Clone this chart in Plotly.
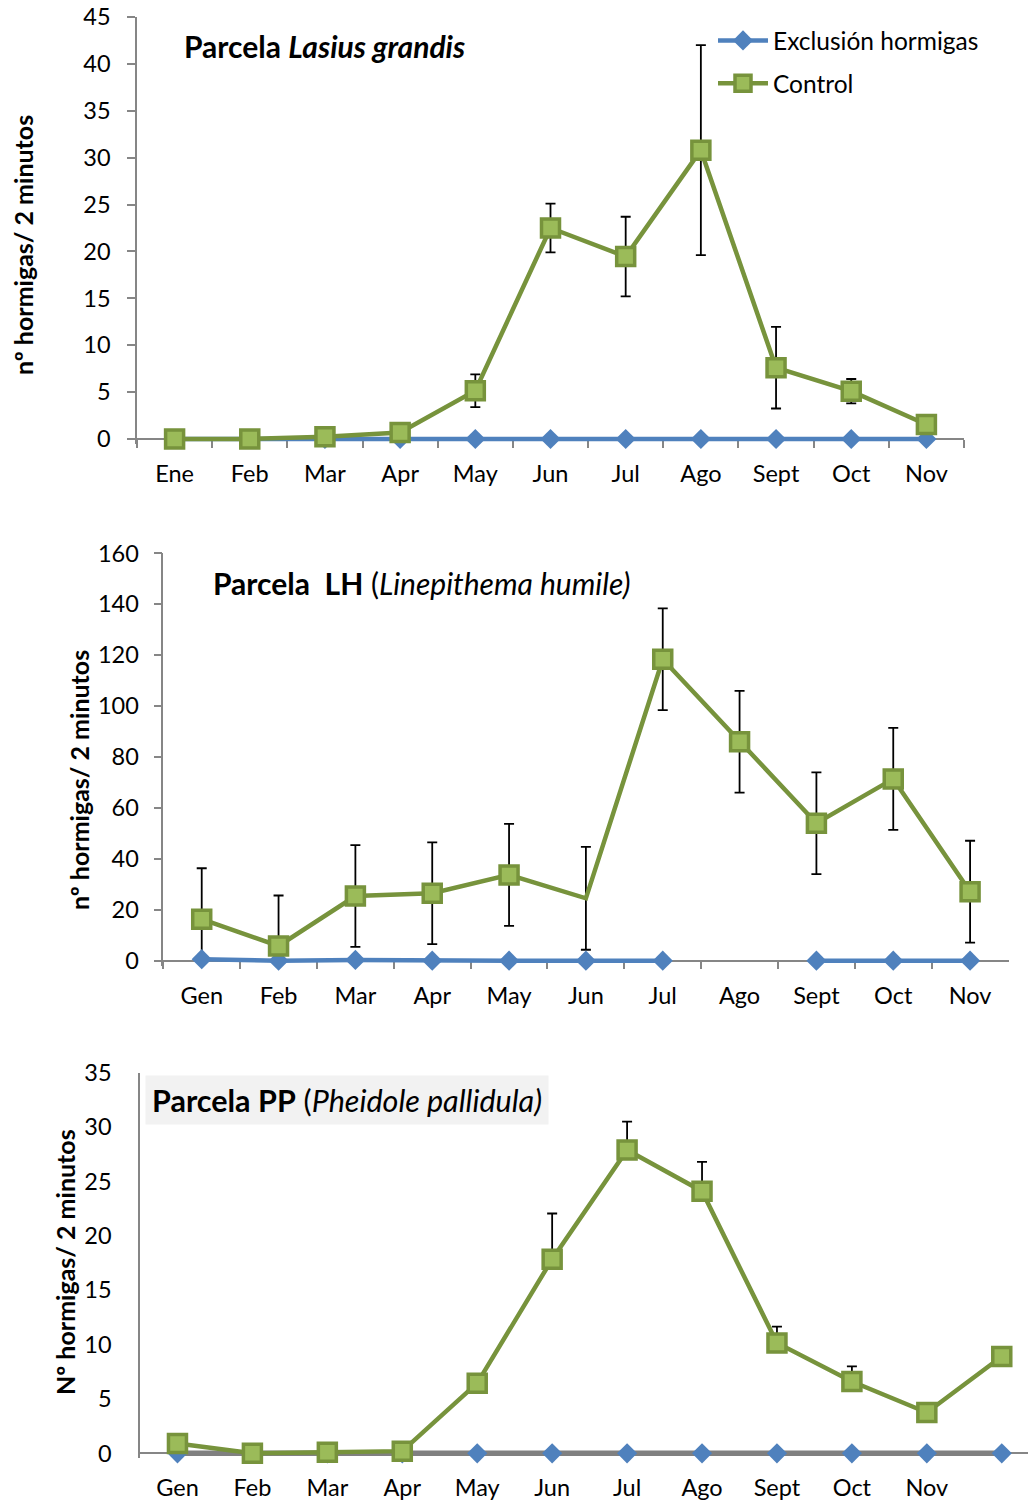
import plotly.graph_objects as go

# ---------------- data ----------------
months1 = ["Ene", "Feb", "Mar", "Apr", "May", "Jun", "Jul", "Ago", "Sept", "Oct", "Nov"]
excl1 = [0, 0, 0, 0, 0, 0, 0, 0, 0, 0, 0]
ctrl1 = [0, 0, 0.25, 0.7, 5.15, 22.5, 19.45, 30.8, 7.6, 5.1, 1.55]
err1 = [0, 0, 0, 0, 1.75, 2.6, 4.25, 11.2, 4.35, 1.3, 0]

months2 = ["Gen", "Feb", "Mar", "Apr", "May", "Jun", "Jul", "Ago", "Sept", "Oct", "Nov"]
excl2 = [0.6, 0, 0.3, 0, 0, 0, 0, None, 0, 0, 0]
ctrl2 = [16.3, 5.8, 25.4, 26.5, 33.7, 24.5, 118.4, 86.0, 54.0, 71.4, 27.1]
err2 = [20, 19.8, 20, 20, 20, 20.2, 20, 20, 20, 20, 20]
ctrl2_marker_shown = [1, 1, 1, 1, 1, 0, 1, 1, 1, 1, 1]

months3 = ["Gen", "Feb", "Mar", "Apr", "May", "Jun", "Jul", "Ago", "Sept", "Oct", "Nov", " "]
excl3 = [0, 0, 0, 0, 0, 0, 0, 0, 0, 0, 0, 0]
ctrl3 = [0.9, 0, 0.1, 0.2, 6.45, 17.85, 27.9, 24.1, 10.15, 6.6, 3.75, 8.9]
err3_plus = [0, 0, 0, 0, 0, 4.2, 2.6, 2.7, 1.5, 1.4, 0, 0]

# ---------------- style ----------------
W, H = 1028, 1501
FONT = "Lato"
BLUE = "#4F81BD"
GREEN = "#77933C"
GFILL = "#9BBB59"
AXC = "#868686"
TICK = 23.5
PAD = 5  # px of plot area kept below the zero line so lines at 0 are not clipped


def fx(px):
    return px / W


def fy(py):
    return 1 - py / H


fig = go.Figure()


def add_panel(xa, ya, cats, excl, ctrl, err, err_sym, excl_line_color, excl_w, legend,
              ctrl_sizes=None):
    fig.add_trace(go.Scatter(
        x=cats, y=ctrl, xaxis=xa, yaxis=ya, mode="markers",
        marker=dict(size=1, color="rgba(0,0,0,0)"),
        error_y=dict(type="data", array=err, symmetric=err_sym,
                     arrayminus=(None if err_sym else [0] * len(err)),
                     color="black", thickness=1.8, width=5),
        showlegend=False, hoverinfo="skip"))
    fig.add_trace(go.Scatter(
        x=cats, y=excl, xaxis=xa, yaxis=ya, mode="lines+markers",
        name="Exclusión hormigas", legendgroup="a", showlegend=legend,
        line=dict(color=excl_line_color, width=excl_w),
        marker=dict(symbol="diamond", size=15.5, color=BLUE, opacity=1),
        connectgaps=False, cliponaxis=False))
    fig.add_trace(go.Scatter(
        x=cats, y=ctrl, xaxis=xa, yaxis=ya, mode="lines+markers",
        name="Control", legendgroup="b", showlegend=legend,
        line=dict(color=GREEN, width=4.5),
        marker=dict(symbol="square", size=(ctrl_sizes if ctrl_sizes else 18), opacity=1,
                    color=GFILL, line=dict(color=GREEN, width=3.5)),
        cliponaxis=False))


add_panel("x", "y", months1, excl1, ctrl1, err1, True, BLUE, 4.5, True)
add_panel("x2", "y2", months2, excl2, ctrl2, err2, True, BLUE, 4.5, False,
          ctrl_sizes=[18 * s for s in ctrl2_marker_shown])
add_panel("x3", "y3", months3, excl3, ctrl3, err3_plus, False, "#808080", 5.5, False)


def xax(dom, rng, ticks, zero_px):
    return dict(domain=dom, type="category", range=rng, showline=True, linecolor=AXC,
                linewidth=1.5, ticks=ticks, tickson="boundaries", ticklen=8,
                tickcolor=AXC, tickwidth=1.5, showgrid=False, zeroline=False,
                automargin=False, anchor="free", position=fy(zero_px),
                ticklabelstandoff=14, layer="below traces",
                tickfont=dict(family=FONT, size=TICK, color="black"))


def yax(top_px, zero_px, ymax, dtick, ticks, standoff, xa):
    per_px = ymax / (zero_px - top_px)
    return dict(domain=[fy(zero_px + PAD), fy(top_px)], range=[-PAD * per_px, ymax],
                dtick=dtick, tick0=0, showline=True, linecolor=AXC,
                linewidth=1.5, ticks=ticks, ticklen=8, tickcolor=AXC, tickwidth=1.5,
                showgrid=False, zeroline=False, ticklabelstandoff=standoff,
                automargin=False, anchor=xa, layer="below traces",
                tickfont=dict(family=FONT, size=TICK, color="black"))


fig.update_layout(
    width=W, height=H, margin=dict(l=0, r=0, t=0, b=0),
    paper_bgcolor="white", plot_bgcolor="white",
    font=dict(family=FONT, color="black"),
    xaxis=xax([fx(137), fx(964)], [-0.5, 10.5], "outside", 439),
    yaxis=yax(17, 439, 45, 5, "outside", 12, "x"),
    xaxis2=xax([fx(163.3), fx(1008.5)], [-0.5, 10.5], "outside", 960.7),
    yaxis2=yax(553.3, 960.7, 160, 20, "outside", 10, "x2"),
    xaxis3=xax([fx(140), 1.0], [-0.5, 11.35], "", 1453.3),
    yaxis3=yax(1072.7, 1453.3, 35, 5, "", 22, "x3"),
    legend=dict(x=fx(713), y=fy(18), xanchor="left", yanchor="top",
                font=dict(family=FONT, size=24.5, color="black"),
                itemwidth=50, tracegroupgap=8, bgcolor="rgba(0,0,0,0)"),
    showlegend=True,
)

ann = [
    dict(text="<b>Parcela <i>Lasius grandis</i></b>", x=fx(182), y=fy(46),
         xanchor="left", yanchor="middle", font=dict(size=30)),
    dict(text="<b>Parcela\u00a0 LH</b> (<i>Linepithema humile)</i>", x=fx(211), y=fy(583),
         xanchor="left", yanchor="middle", font=dict(size=30)),
    dict(text="<b>Parcela PP</b> (<i>Pheidole pallidula)</i>", x=fx(145), y=fy(1075),
         xanchor="left", yanchor="top", font=dict(size=30.5), bgcolor="#F2F2F2", borderpad=6),
    dict(text="<b>nº hormigas/ 2 minutos</b>", x=fx(23), y=fy(245), textangle=-90,
         xanchor="center", yanchor="middle", font=dict(size=25)),
    dict(text="<b>nº hormigas/ 2 minutos</b>", x=fx(79), y=fy(780), textangle=-90,
         xanchor="center", yanchor="middle", font=dict(size=25)),
    dict(text="<b>Nº hormigas/ 2 minutos</b>", x=fx(65), y=fy(1262), textangle=-90,
         xanchor="center", yanchor="middle", font=dict(size=25)),
]
for a in ann:
    a.update(xref="paper", yref="paper", showarrow=False)
    a["font"] = dict(family=FONT, color="black", **a["font"])
fig.update_layout(annotations=ann)

fig.write_html("out.html", config={"displayModeBar": False},
               post_script="document.body.style.margin='0';document.body.style.padding='0';")
